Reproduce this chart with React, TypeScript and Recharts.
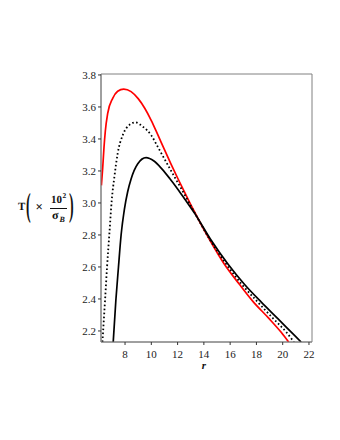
import React from 'react';
import { LineChart, Line, XAxis, YAxis, ReferenceArea } from 'recharts';

// r values and temperatures
const rRed = [6.2, 6.3, 6.4, 6.5, 6.68, 7.06, 7.44, 7.9, 8.46, 9.0, 9.5, 10.0, 10.5, 11.0, 11.5, 12.0, 12.5, 13.0, 13.3, 14.44, 15.5, 16.72, 17.73, 18.93, 19.9, 20.45];
const tRed = [3.11, 3.22, 3.35, 3.45, 3.56, 3.654, 3.698, 3.712, 3.696, 3.652, 3.592, 3.515, 3.425, 3.333, 3.243, 3.156, 3.072, 2.99, 2.942, 2.77, 2.625, 2.49, 2.385, 2.28, 2.19, 2.131];

const rDot = [6.28, 6.48, 6.63, 6.81, 6.99, 7.19, 7.44, 7.83, 8.33, 8.79, 9.35, 9.98, 10.43, 11.0, 11.65, 12.41, 13.3, 14.5, 15.7, 16.9, 18.05, 19.25, 20.3, 20.85];
const tDot = [2.131, 2.394, 2.6, 2.81, 3.019, 3.164, 3.31, 3.425, 3.488, 3.504, 3.477, 3.425, 3.36, 3.275, 3.18, 3.07, 2.938, 2.765, 2.618, 2.49, 2.385, 2.28, 2.19, 2.131];

const rBlack = [7.1, 7.3, 7.5, 7.7, 7.95, 8.2, 8.46, 8.97, 9.6, 10.2, 10.8, 11.4, 12.0, 12.6, 13.3, 14.57, 15.83, 17.1, 18.37, 19.63, 20.9, 21.4];
const tBlack = [2.131, 2.39, 2.6, 2.8, 2.96, 3.07, 3.15, 3.245, 3.283, 3.262, 3.213, 3.153, 3.088, 3.018, 2.935, 2.765, 2.618, 2.49, 2.38, 2.277, 2.172, 2.131];

const xTicks = [8, 10, 12, 14, 16, 18, 20, 22];
const yTicks = [2.2, 2.4, 2.6, 2.8, 3.0, 3.2, 3.4, 3.6, 3.8];

const xDomain = [6.17, 22.23];
const yDomain = [2.131, 3.806];

const toRows = (rs: number[], ts: number[]) => rs.map((r, i) => ({ r, T: ts[i] }));

const serif = '"Liberation Serif", "DejaVu Serif", serif';

const YLabel = () => (
  <g fontFamily={serif} fontWeight="bold" textRendering="geometricPrecision">
    <text x={18} y={210} fontSize={11} fill="#111">T</text>
    <text transform="translate(26, 216) scale(1, 2.4)" fontSize={14} fill="#111">(</text>
    <text x={35.5} y={211} fontSize={13} fill="#111">×</text>
    <text x={51} y={203} fontSize={11} fill="#111">10</text>
    <text x={62.5} y={198} fontSize={7.5} fill="#111">2</text>
    <line x1={50} x2={67} y1={208.5} y2={208.5} stroke="#111" strokeWidth={1} />
    <text x={52} y={219} fontSize={12} fill="#111">σ</text>
    <text x={59.5} y={222} fontSize={8} fontStyle="italic" fill="#111">B</text>
    <text transform="translate(69, 216) scale(1, 2.4)" fontSize={14} fill="#111">)</text>
  </g>
);

const XLabel = () => (
  <text x={204} y={369} fontFamily={serif} fontSize={11} fontWeight="bold" fontStyle="italic" fill="#111" textAnchor="middle">r</text>
);

export default function App() {
  const tick = { fontFamily: serif, fontSize: 11, fill: '#222' };
  return (
    <div style={{ position: 'absolute', left: 0, top: 0, width: 340, height: 440, background: '#fff' }}>
      <LineChart width={340} height={440} margin={{ top: 74, right: 28, left: 0, bottom: 0 }}>
        <XAxis
          dataKey="r"
          type="number"
          domain={xDomain}
          allowDataOverflow
          ticks={xTicks}
          height={98}
          tick={tick}
          tickSize={3}
          tickMargin={5}
          axisLine={{ stroke: '#808080' }}
          tickLine={{ stroke: '#333' }}
          label={<XLabel />}
        />
        <YAxis
          type="number"
          domain={yDomain}
          allowDataOverflow
          ticks={yTicks}
          width={101}
          tick={tick}
          tickSize={3}
          tickMargin={2}
          tickFormatter={(v: number) => v.toFixed(1)}
          axisLine={{ stroke: '#808080' }}
          tickLine={{ stroke: '#333' }}
          label={<YLabel />}
        />
        <ReferenceArea x1={xDomain[0]} x2={xDomain[1]} y1={yDomain[0]} y2={yDomain[1]} fill="none" stroke="#808080" strokeWidth={1} />
        <Line data={toRows(rRed, tRed)} dataKey="T" type="monotone" stroke="#ff0000" strokeWidth={1.7} dot={false} activeDot={false} isAnimationActive={false} />
        <Line data={toRows(rDot, tDot)} dataKey="T" type="monotone" stroke="#000" strokeWidth={1.8} strokeDasharray="1.6 2.4" dot={false} activeDot={false} isAnimationActive={false} />
        <Line data={toRows(rBlack, tBlack)} dataKey="T" type="monotone" stroke="#000" strokeWidth={1.7} dot={false} activeDot={false} isAnimationActive={false} />
      </LineChart>
    </div>
  );
}
